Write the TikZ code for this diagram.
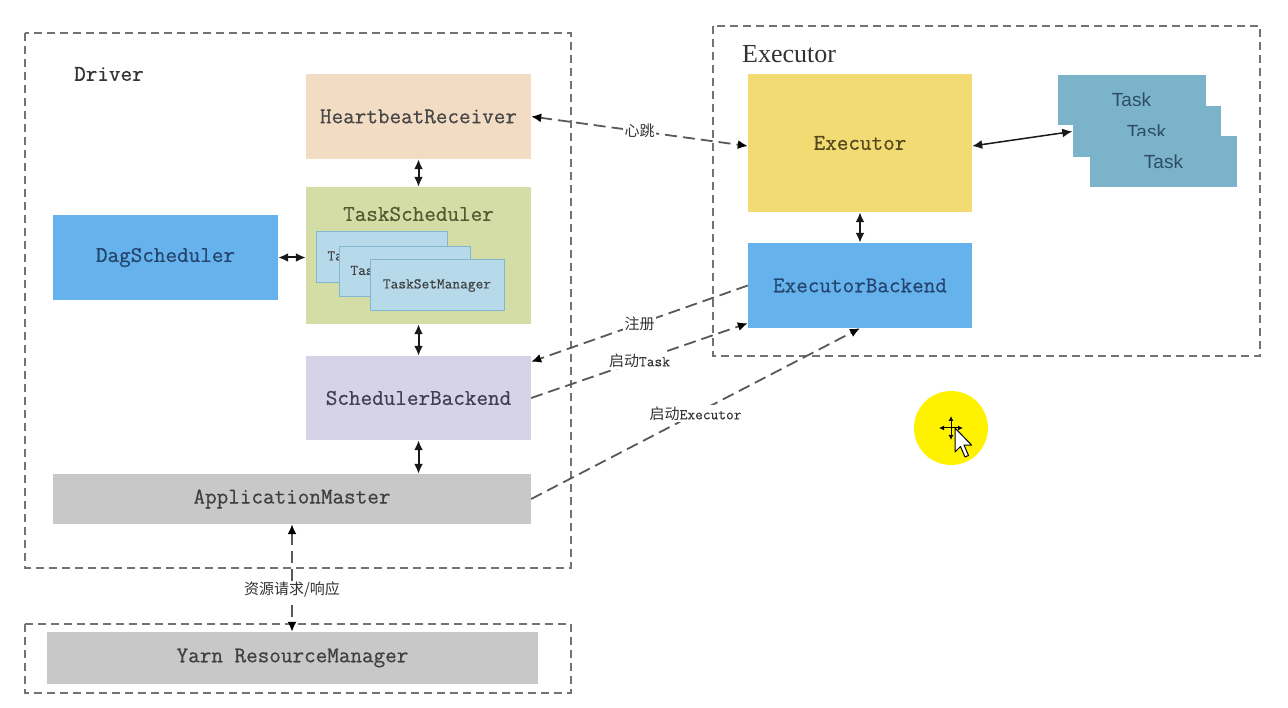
\documentclass[tikz,border=0pt]{standalone}
\usepackage{fontspec}
\setmainfont{Liberation Serif}
\newfontfamily\monof[FakeBold=0.6]{Latin Modern Mono}
\newfontfamily\smallmono[FakeBold=0.3]{Latin Modern Mono}
\newfontfamily\cjk{Noto Sans CJK SC}
\newfontfamily\sansf{Liberation Sans}
\usetikzlibrary{arrows.meta,calc}
\definecolor{hbfill}{HTML}{F2DCC3}
\definecolor{tsfill}{HTML}{D4DDA6}
\definecolor{tsmfill}{HTML}{B6DAEA}
\definecolor{tsmdraw}{HTML}{86B6CE}
\definecolor{bluefill}{HTML}{66B2EC}
\definecolor{sbfill}{HTML}{D6D3E8}
\definecolor{greyfill}{HTML}{C8C8C8}
\definecolor{exfill}{HTML}{F3DB74}
\definecolor{taskfill}{HTML}{7BB3CB}
\definecolor{bluetext}{HTML}{24466E}
\definecolor{tasktext}{HTML}{2E4D63}
\definecolor{cursorY}{HTML}{FFF200}
\tikzset{
  mainbox/.style={inner sep=0pt, font=\monof\fontsize{22.5}{26}\selectfont},
  tsmbox/.style={draw=tsmdraw, fill=tsmfill, line width=1pt, inner sep=0pt,
     minimum height=50pt, font=\smallmono\fontsize{15}{17}\selectfont, text=black!75},
  taskbox/.style={fill=taskfill, inner sep=0pt, minimum width=148pt, minimum height=51pt,
     font=\sansf\fontsize{19}{22}\selectfont, text=tasktext},
  frame/.style={draw=black!55, dash pattern=on 8pt off 5pt, line width=1.5pt},
  dbl/.style={{Latex[length=10pt,width=9pt]}-{Latex[length=10pt,width=9pt]}, line width=2pt, draw=black!90},
  dsh/.style={draw=black!65, dash pattern=on 12pt off 6pt, line width=1.8pt},
  tipend/.style={-{Latex[length=10pt,width=9pt,black]}},
  tipboth/.style={{Latex[length=10pt,width=9pt,black]}-{Latex[length=10pt,width=9pt,black]}},
  lbl/.style={fill=white, inner sep=1.5pt, font=\cjk\fontsize{15}{17}\selectfont, text=black!80},
  framelabel/.style={anchor=west, inner sep=0pt}
}
\begin{document}
\begin{tikzpicture}[x=1pt,y=-1pt]
\useasboundingbox (0,0) rectangle (1288,708);
\fill[white] (0,0) rectangle (1288,708);

% frames
\draw[frame] (25,33) rectangle (571,568);
\draw[frame] (713,26) rectangle (1260,356);
\draw[frame] (25,624) rectangle (571,693);
\node[framelabel, font=\monof\fontsize{22.5}{26}\selectfont, text=black!80] (drvlbl) at (74,74) {Driver};
\node[framelabel, font=\fontsize{26}{30}\selectfont, text=black!80] (exelbl) at (742,54) {Executor};

% driver boxes
\node[mainbox, fill=hbfill, minimum width=225pt, minimum height=85pt, text=black!72] (hb) at (418.5,116.5) {HeartbeatReceiver};
\node[mainbox, fill=tsfill, minimum width=225pt, minimum height=137pt] (ts) at (418.5,255.5) {};
\node[inner sep=0pt, font=\monof\fontsize{22.5}{26}\selectfont, text={rgb,255:red,80;green,90;blue,48}] (tstitle) at (418.5,214) {TaskScheduler};
\node[tsmbox, minimum width=131pt, minimum height=51pt] (tsm1) at (381.5,257.5) {TaskSetManager};
\node[tsmbox, minimum width=131pt] (tsm2) at (404.5,272) {TaskSetManager};
\node[tsmbox, minimum width=134pt, minimum height=51pt] (tsm3) at (437,285.5) {TaskSetManager};
\node[mainbox, fill=bluefill, minimum width=225pt, minimum height=85pt, text=bluetext] (dag) at (165.5,257.5) {DagScheduler};
\node[mainbox, fill=sbfill, minimum width=225pt, minimum height=84pt, text={rgb,255:red,62;green,62;blue,85}] (sb) at (418.5,398) {SchedulerBackend};
\node[mainbox, fill=greyfill, minimum width=478pt, minimum height=50pt, text=black!75] (am) at (292,499) {ApplicationMaster};
\node[mainbox, fill=greyfill, minimum width=491pt, minimum height=52pt, text=black!75] (yarn) at (292.5,658) {Yarn ResourceManager};

% executor boxes
\node[mainbox, fill=exfill, minimum width=224pt, minimum height=138pt, text={rgb,255:red,85;green,72;blue,30}] (ex) at (860,143) {Executor};
\node[mainbox, fill=bluefill, minimum width=224pt, minimum height=85pt, text=bluetext] (eb) at (860,285.5) {ExecutorBackend};
\node[taskbox, minimum height=50pt] (t1) at (1131.5,100) {Task};
\node[taskbox] (t2) at (1146.5,131.5) {Task};
\node[taskbox, minimum width=147pt] (t3) at (1163.5,161.5) {Task};

% solid connectors
\draw[dbl] (hb.south) -- (ts.north);
\draw[dbl] (ts.south) -- (sb.north);
\draw[dbl] (sb.south) -- (sb.south |- am.north);
\draw[dbl] (dag.east) -- (dag.east -| ts.west);
\draw[dbl] (ex.south) -- (eb.north);
\draw[dbl, line width=1.5pt] ($(ex.east)+(0,3)$) -- (t2.west);

% dashed connectors
\draw[dsh, tipboth] (hb.east) -- node[lbl] (hblbl) {心跳} ($(ex.west)+(0,3)$);
\draw[dsh, tipend] (eb.west) -- node[lbl] (reglbl) {注册} ($(sb.north east)+(0,6)$);
\draw[dsh, tipend] (sb.east) -- node[lbl] (tasklbl) {启动{\smallmono Task}} ($(eb.south west)+(0,-5)$);
\draw[dsh, tipend] (am.east) -- node[lbl] (exlbl) {启动{\smallmono Executor}} (eb.south);
\draw[dsh, tipboth] (am.south) -- node[lbl, pos=0.61] (yarnlbl) {资源请求/响应} (am.south |- yarn.north);

% recording cursor highlight
\fill[cursorY] (951,428) circle (37);
\draw[black, line width=1pt, -{Latex[length=5pt,width=5pt]}] (951,428) -- (951,416);
\draw[black, line width=1pt, -{Latex[length=5pt,width=5pt]}] (951,428) -- (939,428);
\draw[black, line width=1pt, -{Latex[length=5pt,width=5pt]}] (951,428) -- (963,428);
\draw[black, line width=1pt, -{Latex[length=5pt,width=5pt]}] (951,428) -- (951,440);
\draw[fill=white, draw=black, line width=1pt, line join=round]
  (955,428) -- (955,452) -- (960.5,446.5) -- (965,457) -- (968.5,455.5) -- (964,445) -- (971.5,445) -- cycle;
\end{tikzpicture}
\end{document}
